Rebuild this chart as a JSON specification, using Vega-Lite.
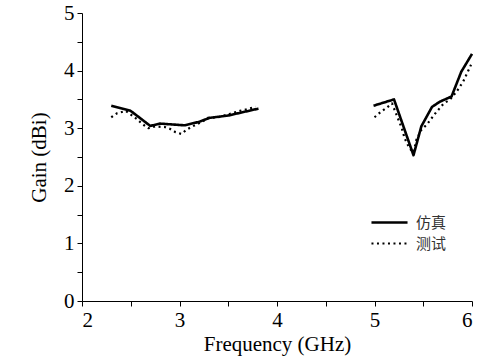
{
  "$schema": "https://vega.github.io/schema/vega-lite/v6.json",
  "width": 390,
  "height": 288,
  "autosize": "none",
  "padding": {"left": 82, "top": 13, "right": 28, "bottom": 60},
  "background": "white",
  "config": {"view": {"stroke": null}, "font": "Liberation Serif"},
  "data": {"values": [
    {"f": 2.30, "g": 3.39, "s": "仿真", "seg": "a"},
    {"f": 2.50, "g": 3.30, "s": "仿真", "seg": "a"},
    {"f": 2.70, "g": 3.04, "s": "仿真", "seg": "a"},
    {"f": 2.80, "g": 3.08, "s": "仿真", "seg": "a"},
    {"f": 3.05, "g": 3.05, "s": "仿真", "seg": "a"},
    {"f": 3.20, "g": 3.11, "s": "仿真", "seg": "a"},
    {"f": 3.31, "g": 3.18, "s": "仿真", "seg": "a"},
    {"f": 3.50, "g": 3.22, "s": "仿真", "seg": "a"},
    {"f": 3.81, "g": 3.34, "s": "仿真", "seg": "a"},
    {"f": 4.99, "g": 3.39, "s": "仿真", "seg": "b"},
    {"f": 5.20, "g": 3.50, "s": "仿真", "seg": "b"},
    {"f": 5.40, "g": 2.53, "s": "仿真", "seg": "b"},
    {"f": 5.48, "g": 3.03, "s": "仿真", "seg": "b"},
    {"f": 5.59, "g": 3.37, "s": "仿真", "seg": "b"},
    {"f": 5.67, "g": 3.46, "s": "仿真", "seg": "b"},
    {"f": 5.79, "g": 3.55, "s": "仿真", "seg": "b"},
    {"f": 5.89, "g": 3.98, "s": "仿真", "seg": "b"},
    {"f": 6.00, "g": 4.29, "s": "仿真", "seg": "b"},
    {"f": 2.30, "g": 3.19, "s": "测试", "seg": "a"},
    {"f": 2.36, "g": 3.26, "s": "测试", "seg": "a"},
    {"f": 2.45, "g": 3.30, "s": "测试", "seg": "a"},
    {"f": 2.57, "g": 3.15, "s": "测试", "seg": "a"},
    {"f": 2.62, "g": 3.07, "s": "测试", "seg": "a"},
    {"f": 2.68, "g": 3.00, "s": "测试", "seg": "a"},
    {"f": 2.75, "g": 3.03, "s": "测试", "seg": "a"},
    {"f": 2.85, "g": 3.02, "s": "测试", "seg": "a"},
    {"f": 2.90, "g": 2.99, "s": "测试", "seg": "a"},
    {"f": 2.96, "g": 2.93, "s": "测试", "seg": "a"},
    {"f": 3.02, "g": 2.90, "s": "测试", "seg": "a"},
    {"f": 3.07, "g": 2.97, "s": "测试", "seg": "a"},
    {"f": 3.12, "g": 3.02, "s": "测试", "seg": "a"},
    {"f": 3.24, "g": 3.12, "s": "测试", "seg": "a"},
    {"f": 3.29, "g": 3.18, "s": "测试", "seg": "a"},
    {"f": 3.40, "g": 3.19, "s": "测试", "seg": "a"},
    {"f": 3.52, "g": 3.25, "s": "测试", "seg": "a"},
    {"f": 3.62, "g": 3.30, "s": "测试", "seg": "a"},
    {"f": 3.69, "g": 3.33, "s": "测试", "seg": "a"},
    {"f": 3.78, "g": 3.37, "s": "测试", "seg": "a"},
    {"f": 5.00, "g": 3.19, "s": "测试", "seg": "b"},
    {"f": 5.07, "g": 3.29, "s": "测试", "seg": "b"},
    {"f": 5.12, "g": 3.35, "s": "测试", "seg": "b"},
    {"f": 5.18, "g": 3.43, "s": "测试", "seg": "b"},
    {"f": 5.24, "g": 3.17, "s": "测试", "seg": "b"},
    {"f": 5.28, "g": 3.00, "s": "测试", "seg": "b"},
    {"f": 5.31, "g": 2.82, "s": "测试", "seg": "b"},
    {"f": 5.36, "g": 2.65, "s": "测试", "seg": "b"},
    {"f": 5.40, "g": 2.58, "s": "测试", "seg": "b"},
    {"f": 5.43, "g": 2.80, "s": "测试", "seg": "b"},
    {"f": 5.48, "g": 2.97, "s": "测试", "seg": "b"},
    {"f": 5.54, "g": 3.07, "s": "测试", "seg": "b"},
    {"f": 5.62, "g": 3.25, "s": "测试", "seg": "b"},
    {"f": 5.71, "g": 3.43, "s": "测试", "seg": "b"},
    {"f": 5.77, "g": 3.49, "s": "测试", "seg": "b"},
    {"f": 5.84, "g": 3.63, "s": "测试", "seg": "b"},
    {"f": 5.91, "g": 3.81, "s": "测试", "seg": "b"},
    {"f": 5.99, "g": 4.10, "s": "测试", "seg": "b"}
  ]},
  "mark": {"type": "line", "color": "black", "strokeJoin": "round"},
  "encoding": {
    "x": {
      "field": "f", "type": "quantitative",
      "scale": {"domain": [2, 6], "nice": false},
      "axis": {
        "title": "Frequency (GHz)",
        "values": [2, 2.5, 3, 3.5, 4, 4.5, 5, 5.5, 6],
        "labelExpr": "datum.value % 1 === 0 ? format(datum.value, 'd') : ''",
        "grid": false, "domainColor": "black", "tickColor": "black",
        "tickSize": 5, "labelFontSize": 21, "labelColor": "black",
        "labelFont": "Liberation Serif", "labelPadding": 3,
        "titleFont": "Liberation Serif", "titleFontSize": 21, "titleFontWeight": "normal",
        "titleColor": "black", "titlePadding": 3, "domainWidth": 1, "tickWidth": 1
      }
    },
    "y": {
      "field": "g", "type": "quantitative",
      "scale": {"domain": [0, 5], "nice": false},
      "axis": {
        "title": "Gain (dBi)",
        "values": [0, 0.5, 1, 1.5, 2, 2.5, 3, 3.5, 4, 4.5, 5],
        "labelExpr": "datum.value % 1 === 0 ? format(datum.value, 'd') : ''",
        "grid": false, "domainColor": "black", "tickColor": "black",
        "tickSize": 5, "labelFontSize": 21, "labelColor": "black",
        "labelFont": "Liberation Serif", "labelPadding": 3,
        "titleFont": "Liberation Serif", "titleFontSize": 21, "titleFontWeight": "normal",
        "titleColor": "black", "titlePadding": 14, "domainWidth": 1, "tickWidth": 1
      }
    },
    "detail": {"field": "seg"},
    "strokeDash": {
      "field": "s", "type": "nominal",
      "scale": {"domain": ["仿真", "测试"], "range": [[1, 0], [2, 3.5]]},
      "legend": {
        "title": null, "orient": "none", "legendX": 288, "legendY": 201,
        "symbolType": "stroke", "symbolSize": 1300, "symbolStrokeWidth": 2.5,
        "symbolStrokeColor": "black", "labelFont": "Noto Sans CJK SC",
        "labelFontSize": 15, "labelColor": "#333", "rowPadding": 4, "clipHeight": 17, "labelOffset": 7
      }
    },
    "strokeWidth": {
      "field": "s", "type": "nominal",
      "scale": {"domain": ["仿真", "测试"], "range": [2.6, 2.2]},
      "legend": null
    }
  }
}
